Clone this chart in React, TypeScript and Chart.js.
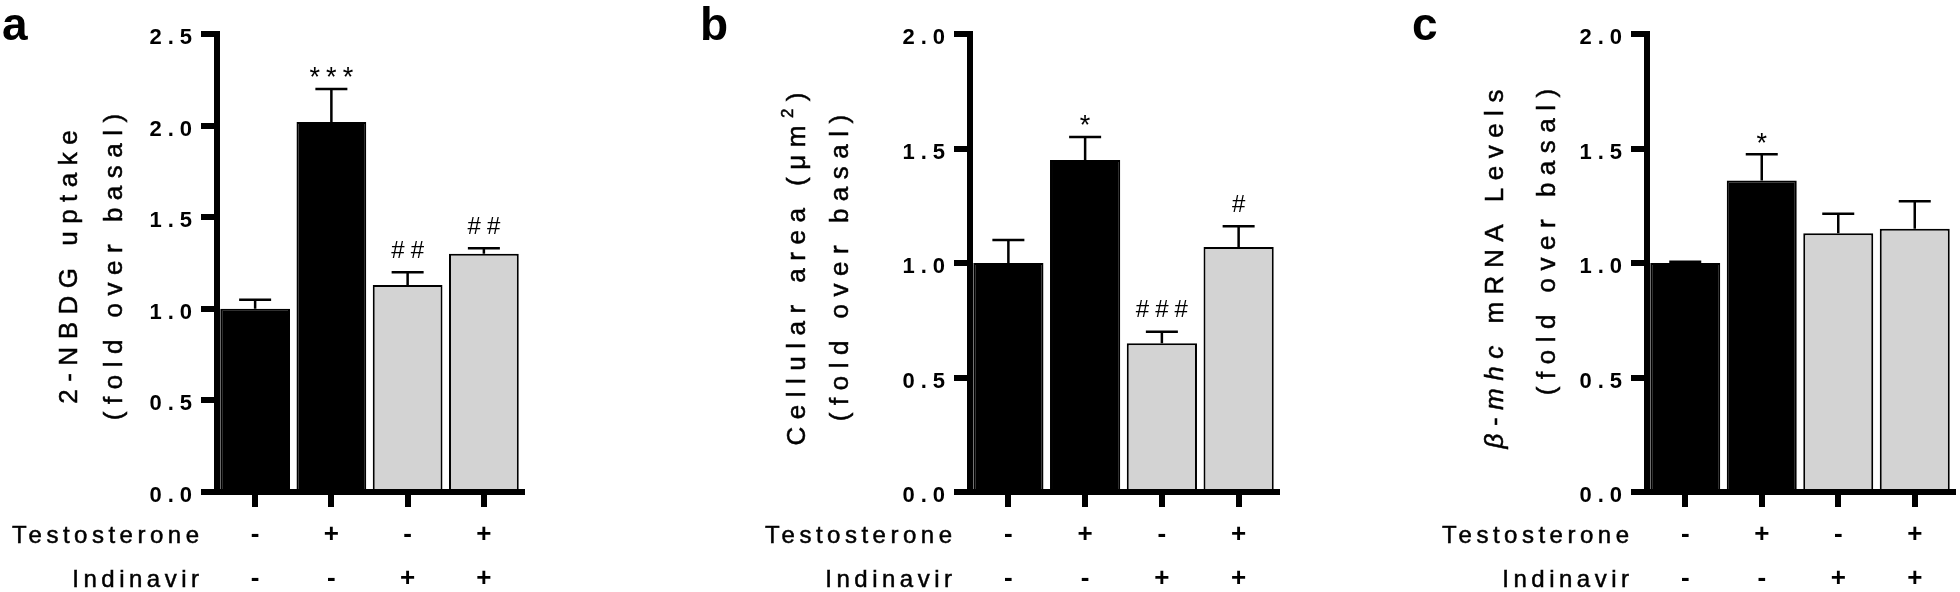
import React, { useEffect, useRef } from 'react';
import { Chart, registerables } from 'chart.js';

Chart.register(...registerables);

const FAMILY = '"Liberation Sans", Arial, Helvetica, sans-serif';

// ---------------- data ----------------
const rowLabels = ['Testosterone', 'Indinavir'];
const testosteroneSigns = ['-', '+', '-', '+'];
const indinavirSigns = ['-', '-', '+', '+'];
const barColors = ['#000000', '#000000', '#d3d3d3', '#d3d3d3'];
const tickStep = 0.5;

const uptakeMean = [1.0, 2.02, 1.13, 1.3];
const uptakeSem = [0.05, 0.18, 0.07, 0.03];
const uptakeMarks = ['', '***', '##', '##'];
const uptakeMax = 2.5;

const areaMean = [1.0, 1.45, 0.65, 1.07];
const areaSem = [0.1, 0.1, 0.05, 0.09];
const areaMarks = ['', '*', '###', '#'];
const areaMax = 2.0;

const mhcMean = [1.0, 1.36, 1.13, 1.15];
const mhcSem = [0.006, 0.115, 0.085, 0.12];
const mhcMarks = ['', '*', '', ''];
const mhcMax = 2.0;

// ---------------- helpers ----------------
type Seg = { text: string; italic?: boolean; size?: number; rise?: number };
type TitleLine = { segs: Seg[]; dx: number; cy: number };

type PanelCfg = {
  letter: string;
  letterX: number;
  left: number;
  width: number;
  yWidth: number;
  padRight: number;
  max: number;
  mean: number[];
  sem: number[];
  marks: string[];
  title: TitleLine[];
};

const TITLE_SIZE = 26;
const TITLE_SPACING = 7.5;
const X_TICK_LEN = 15;
const X_TICK_PAD = 6;
const X_LINE_H = 44;
const Y_TICK_SPACING = 6;

function segFont(s: Seg) {
  return `${s.italic ? 'italic ' : ''}${s.size || TITLE_SIZE}px ${FAMILY}`;
}

function drawRotated(ctx: CanvasRenderingContext2D, segs: Seg[], baseX: number, centerY: number, spacing: number) {
  ctx.save();
  ctx.translate(baseX, centerY);
  ctx.rotate(-Math.PI / 2);
  (ctx as any).letterSpacing = spacing + 'px';
  ctx.textAlign = 'left';
  ctx.textBaseline = 'alphabetic';
  ctx.fillStyle = '#000';
  ctx.strokeStyle = '#000';
  ctx.lineWidth = 0.5;
  const widths = segs.map((s) => {
    ctx.font = segFont(s);
    return ctx.measureText(s.text).width;
  });
  const total = widths.reduce((a, b) => a + b, 0) - spacing;
  let x = -total / 2;
  segs.forEach((s, i) => {
    ctx.font = segFont(s);
    ctx.fillText(s.text, x, -(s.rise || 0));
    ctx.strokeText(s.text, x, -(s.rise || 0));
    x += widths[i];
  });
  ctx.restore();
}

function makeDecor(cfg: PanelCfg) {
  return {
    id: 'decor' + cfg.letter,
    beforeDraw(chart: any) {
      (chart.ctx as any).letterSpacing = Y_TICK_SPACING + 'px';
    },
    afterDatasetsDraw(chart: any) {
      const ctx: CanvasRenderingContext2D = chart.ctx;
      const ys = chart.scales.y;
      const meta = chart.getDatasetMeta(0);
      ctx.save();
      ctx.strokeStyle = '#000';
      ctx.lineWidth = 2.5;
      meta.data.forEach((bar: any, i: number) => {
        const x = bar.x;
        const yTop = ys.getPixelForValue(cfg.mean[i] + cfg.sem[i]);
        const yBar = ys.getPixelForValue(cfg.mean[i]);
        ctx.beginPath();
        ctx.moveTo(x, yBar);
        ctx.lineTo(x, yTop);
        ctx.moveTo(x - 16, yTop);
        ctx.lineTo(x + 16, yTop);
        ctx.stroke();
      });
      ctx.restore();
    },
    afterDraw(chart: any) {
      const ctx: CanvasRenderingContext2D = chart.ctx;
      const area = chart.chartArea;
      const ys = chart.scales.y;
      const meta = chart.getDatasetMeta(0);
      ctx.save();
      ctx.fillStyle = '#000';
      ctx.strokeStyle = '#000';

      // significance marks
      (ctx as any).letterSpacing = '6px';
      ctx.textAlign = 'center';
      ctx.textBaseline = 'alphabetic';
      meta.data.forEach((bar: any, i: number) => {
        const mark = cfg.marks[i];
        if (!mark) return;
        const capY = ys.getPixelForValue(cfg.mean[i] + cfg.sem[i]);
        const isHash = mark.indexOf('#') >= 0;
        const size = isHash ? 24 : 27;
        ctx.font = `${size}px ${FAMILY}`;
        const target = capY - (isHash ? 23 : 18);
        const base = target + (isHash ? 0.36 : 0.57) * size;
        ctx.fillText(mark, bar.x + 3, base);
      });

      // row labels
      ctx.font = `24px ${FAMILY}`;
      (ctx as any).letterSpacing = '4.5px';
      ctx.textAlign = 'right';
      ctx.lineWidth = 0.5;
      rowLabels.forEach((lab, r) => {
        const mid = area.bottom + X_TICK_LEN + X_TICK_PAD + X_LINE_H / 2 + r * X_LINE_H;
        ctx.fillText(lab, area.left - 18 + 4.5, mid + 8);
        ctx.strokeText(lab, area.left - 18 + 4.5, mid + 8);
      });

      // axis titles
      cfg.title.forEach((line) => {
        drawRotated(ctx, line.segs, area.left + line.dx, line.cy, TITLE_SPACING);
      });

      // panel letter
      (ctx as any).letterSpacing = '0px';
      ctx.font = `bold 46px ${FAMILY}`;
      ctx.textAlign = 'left';
      ctx.fillText(cfg.letter, cfg.letterX, 40);

      ctx.restore();
      (ctx as any).letterSpacing = '0px';
    },
  };
}

const panels: PanelCfg[] = [
  {
    letter: 'a',
    letterX: 2,
    left: 0,
    width: 560,
    yWidth: 217,
    padRight: 38,
    max: uptakeMax,
    mean: uptakeMean,
    sem: uptakeSem,
    marks: uptakeMarks,
    title: [
      { segs: [{ text: '2-NBDG uptake' }], dx: -140, cy: 267 },
      { segs: [{ text: '(fold over basal)' }], dx: -95, cy: 267 },
    ],
  },
  {
    letter: 'b',
    letterX: 100,
    left: 600,
    width: 690,
    yWidth: 370,
    padRight: 13,
    max: areaMax,
    mean: areaMean,
    sem: areaSem,
    marks: areaMarks,
    title: [
      {
        segs: [
          { text: 'Cellular area (\u03bcm' },
          { text: '2', size: 17, rise: 12 },
          { text: ')' },
        ],
        dx: -165,
        cy: 269,
      },
      { segs: [{ text: '(fold over basal)' }], dx: -122, cy: 268 },
    ],
  },
  {
    letter: 'c',
    letterX: 112,
    left: 1300,
    width: 660,
    yWidth: 347,
    padRight: 7,
    max: mhcMax,
    mean: mhcMean,
    sem: mhcSem,
    marks: mhcMarks,
    title: [
      {
        segs: [
          { text: '\u03b2', italic: true },
          { text: '-' },
          { text: 'mhc', italic: true },
          { text: ' mRNA Levels' },
        ],
        dx: -144,
        cy: 269,
      },
      { segs: [{ text: '(fold over basal)' }], dx: -92, cy: 242 },
    ],
  },
];

function Panel({ cfg }: { cfg: PanelCfg }) {
  const ref = useRef<HTMLCanvasElement | null>(null);
  useEffect(() => {
    if (!ref.current) return;
    const labels = testosteroneSigns.map((t, i) => [t, indinavirSigns[i]]);
    const chart = new Chart(ref.current, {
      type: 'bar',
      data: {
        labels,
        datasets: [
          {
            data: cfg.mean,
            backgroundColor: barColors,
            borderColor: '#000000',
            borderWidth: 2,
            barPercentage: 0.915,
            categoryPercentage: 1,
          },
        ],
      },
      options: {
        responsive: false,
        animation: false,
        devicePixelRatio: 1,
        layout: { padding: { left: 0, top: 34, right: cfg.padRight, bottom: 0 } },
        plugins: { legend: { display: false }, tooltip: { enabled: false } },
        scales: {
          x: {
            type: 'category',
            offset: true,
            grid: {
              display: true,
              drawOnChartArea: false,
              drawTicks: true,
              offset: false,
              tickLength: X_TICK_LEN,
              tickWidth: 6,
              tickColor: '#000',
              lineWidth: 6,
              color: '#000',
            },
            border: { display: true, width: 6, color: '#000' },
            ticks: {
              color: '#000',
              font: { family: FAMILY, size: 26, weight: 'bold', lineHeight: X_LINE_H + 'px' },
              padding: X_TICK_PAD,
              labelOffset: Y_TICK_SPACING / 2,
              maxRotation: 0,
              minRotation: 0,
              autoSkip: false,
            },
            afterFit: (s: any) => {
              s.height = 100;
            },
          },
          y: {
            min: 0,
            max: cfg.max,
            grid: {
              display: true,
              drawOnChartArea: false,
              drawTicks: true,
              tickLength: 16,
              tickWidth: 6,
              tickColor: '#000',
              lineWidth: 6,
              color: '#000',
            },
            border: { display: true, width: 6, color: '#000' },
            ticks: {
              stepSize: tickStep,
              color: '#000',
              font: { family: FAMILY, size: 22, weight: 'bold' },
              padding: 3,
              labelOffset: 4,
              callback: (v: any) => Number(v).toFixed(1),
            },
            afterFit: (s: any) => {
              s.width = cfg.yWidth;
            },
          },
        },
      } as any,
      plugins: [makeDecor(cfg)],
    });
    return () => chart.destroy();
  }, [cfg]);
  return (
    <canvas
      ref={ref}
      width={cfg.width}
      height={592}
      style={{ position: 'absolute', left: cfg.left, top: 0, width: cfg.width, height: 592, display: 'block' }}
    />
  );
}

export default function App() {
  return (
    <div
      style={{
        position: 'absolute',
        left: 0,
        top: 0,
        width: 1960,
        height: 592,
        background: '#ffffff',
        overflow: 'hidden',
      }}
    >
      {panels.map((p) => (
        <Panel key={p.letter} cfg={p} />
      ))}
    </div>
  );
}
